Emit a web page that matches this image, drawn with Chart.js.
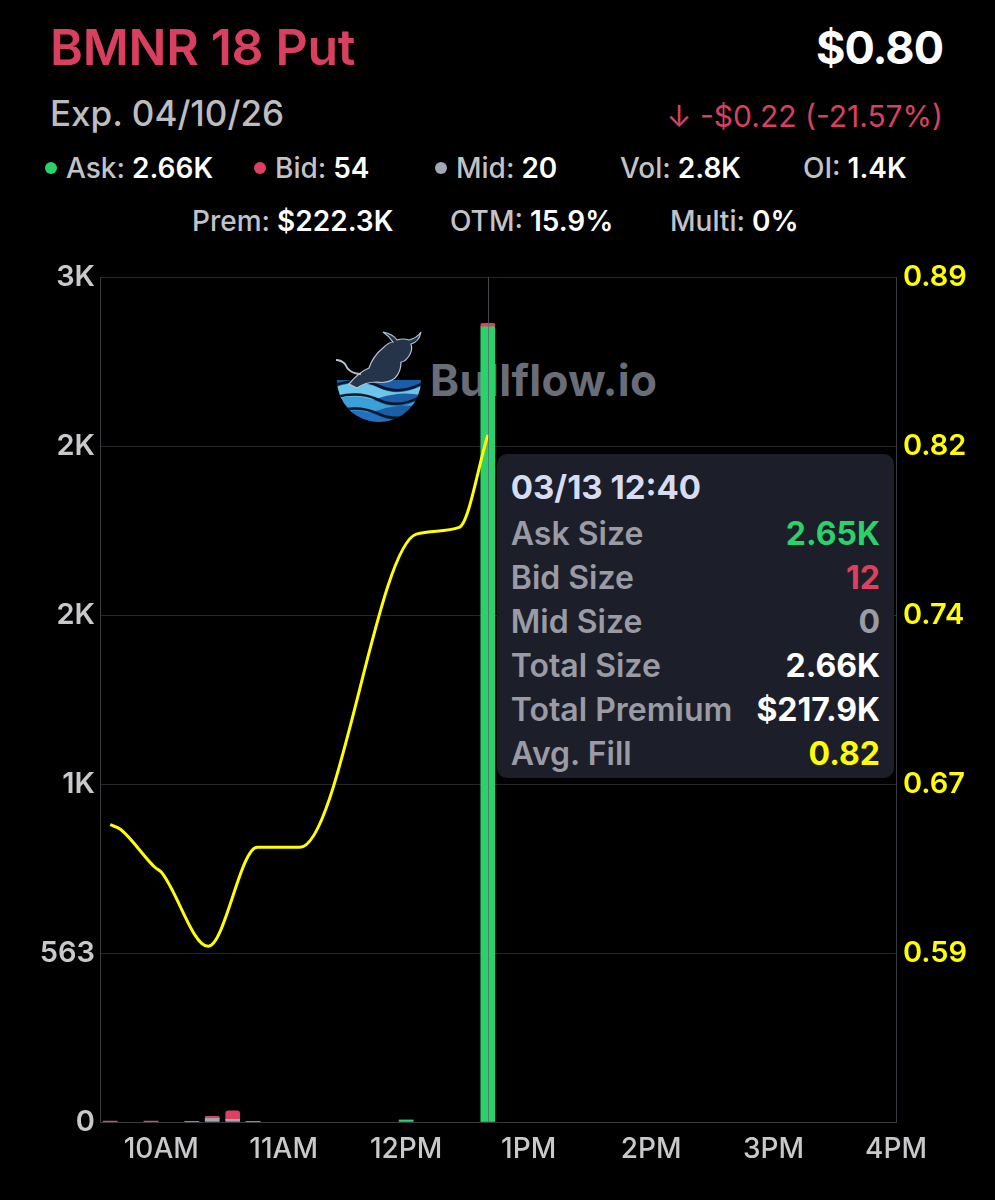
<!DOCTYPE html>
<html>
<head>
<meta charset="utf-8">
<script src="https://cdn.jsdelivr.net/npm/chart.js@4.4.1/dist/chart.umd.min.js"></script>
<style>
  html, body { margin:0; padding:0; background:#000; width:995px; height:1200px; overflow:hidden; font-family: Inter, "Noto Sans", "DejaVu Sans", sans-serif; }
  #wrap { position:relative; width:995px; height:1200px; }
  .abs { position:absolute; white-space:nowrap; }
  .title { left:50px; top:17px; font-size:50px; font-weight:600; color:#d9405f; letter-spacing:-0.3px; }
  .price { right:52px; top:20px; font-size:45px; font-weight:700; color:#fff; letter-spacing:-1px; }
  .exp { left:50px; top:92px; font-size:35px; font-weight:500; color:#bdbdc0; }
  .chg { right:52px; top:98px; font-size:30px; font-weight:400; color:#d9405f; }
  .stat { font-size:28px; top:151px; }
  .stat2 { font-size:28px; top:204px; }
  .lab { color:#c3c3c6; font-weight:500; }
  .val { color:#fff; font-weight:600; margin-left:7px; }
  .dot { display:inline-block; width:12px; height:12px; border-radius:50%; margin-right:9px; vertical-align:4px; }
  #logo { position:absolute; left:333px; top:330px; width:340px; height:100px; }
  #logo .txt { position:absolute; left:97px; top:23px; font-size:44px; font-weight:700; color:#6a6d78; letter-spacing:0.3px; }
  #chartBox { position:absolute; left:0; top:253px; width:995px; height:919px; }
  #tip { position:absolute; background:#1c1f29; border-radius:10px; box-sizing:border-box; padding:8px 14px 0 14px; }
  #tip .tt { font-size:33px; font-weight:700; color:#d8dcf2; height:50px; line-height:50px; }
  #tip .row { display:flex; justify-content:space-between; font-size:32px; font-weight:600; height:44px; line-height:44px; }
  #tip .row .l { color:#9a9ba4; }
  #tip .row .v { font-weight:700; }
</style>
</head>
<body>
<div id="wrap">
  <div class="abs title">BMNR 18 Put</div>
  <div class="abs price">$0.80</div>
  <div class="abs exp">Exp. 04/10/26</div>
  <div class="abs chg">↓ -$0.22 (-21.57%)</div>

  <div class="abs stat" style="left:45px"><span class="dot" style="background:#2bd16b"></span><span class="lab">Ask:</span><span class="val">2.66K</span></div>
  <div class="abs stat" style="left:254px"><span class="dot" style="background:#e0405f"></span><span class="lab">Bid:</span><span class="val">54</span></div>
  <div class="abs stat" style="left:435px"><span class="dot" style="background:#a3a7b4"></span><span class="lab">Mid:</span><span class="val">20</span></div>
  <div class="abs stat" style="left:620px"><span class="lab">Vol:</span><span class="val">2.8K</span></div>
  <div class="abs stat" style="left:803px"><span class="lab">OI:</span><span class="val">1.4K</span></div>

  <div class="abs stat2" style="left:192px"><span class="lab">Prem:</span><span class="val">$222.3K</span></div>
  <div class="abs stat2" style="left:450px"><span class="lab">OTM:</span><span class="val">15.9%</span></div>
  <div class="abs stat2" style="left:670px"><span class="lab">Multi:</span><span class="val">0%</span></div>

  <div id="logo">
    <svg width="92" height="98" viewBox="0 0 92 98" style="position:absolute;left:0;top:0">
      <defs>
        <clipPath id="bowl"><path d="M4 50 A42 42 0 0 0 88 50 Z"/></clipPath>
      </defs>
      <g clip-path="url(#bowl)">
        <rect x="0" y="40" width="92" height="60" fill="#1b5ea8"/>
        <path d="M0 58 Q25 48 46 58 T92 54 L92 66 Q70 60 46 68 T0 66 Z" fill="#6cc6ea"/>
        <path d="M0 70 Q25 62 46 72 T92 66 L92 78 Q70 72 46 80 T0 80 Z" fill="#3b9fd8"/>
        <path d="M0 84 Q25 76 46 86 T92 80 L92 100 L0 100 Z" fill="#2371bd"/>
        <path d="M0 56 Q25 46 46 56 T92 52" stroke="#0a1526" stroke-width="2.5" fill="none"/>
        <path d="M0 68 Q25 60 46 70 T92 64" stroke="#0a1526" stroke-width="2.5" fill="none"/>
        <path d="M0 82 Q25 74 46 84 T92 78" stroke="#0a1526" stroke-width="2.5" fill="none"/>
      </g>
      <path d="M16 54 Q26 42 36 38 Q40 26 50 18 Q56 12 60 12 Q56 6 50 2 Q60 4 64 10 Q70 8 76 10 Q84 8 88 2 Q86 12 78 14 Q80 20 76 26 Q72 32 68 32 Q68 42 62 48 Q54 54 44 52 Q32 52 24 58 Z" fill="#26344a" stroke="#b8c4d2" stroke-width="1.2"/>
      <path d="M28 44 Q16 44 12 34 Q8 30 3 30" stroke="#b8c4d2" stroke-width="2" fill="none"/>
    </svg>
    <div class="txt">Bullflow.io</div>
  </div>

  <div id="chartBox"><canvas id="c" width="995" height="919"></canvas></div>

  <div id="tip" class="abs"></div>
</div>

<script>
// ---------- data ----------
const barTimes   = ['09:35','09:55','10:15','10:25','10:35','10:45','12:00','12:40'];
const askSizes   = [0, 0, 2, 0, 0, 2, 6, 2650];
const bidSizes   = [3, 3, 0, 8, 28, 0, 0, 12];
const midSizes   = [0, 0, 0, 11, 9, 0, 0, 0];

const fillTimes  = ['09:35','09:40','09:57','10:00','10:23','10:47','11:08','12:05','12:26','12:40'];
const avgFills   = [0.647, 0.645, 0.628, 0.626, 0.593, 0.637, 0.637, 0.776, 0.779, 0.82];

const leftTickValues  = [0, 563, 1126, 1689, 2252, 2815];
const leftTickLabels  = ['0', '563', '1K', '2K', '2K', '3K'];
const rightTickValues = [0.515, 0.59, 0.665, 0.74, 0.815, 0.89];
const rightTickLabels = ['', '0.59', '0.67', '0.74', '0.82', '0.89'];
const xTickTimes      = ['10:00','11:00','12:00','13:00','14:00','15:00','16:00'];
const xTickLabels     = ['10AM','11AM','12PM','1PM','2PM','3PM','4PM'];
const sessionStart = '09:30', sessionEnd = '16:00';

const tipTime = '12:40';
const tipTitle = '03/13 12:40';
const tipRows = [
  ['Ask Size', '2.65K', '#2bd16b'],
  ['Bid Size', '12', '#e0405f'],
  ['Mid Size', '0', '#9a9ba4'],
  ['Total Size', '2.66K', '#ffffff'],
  ['Total Premium', '$217.9K', '#ffffff'],
  ['Avg. Fill', '0.82', '#ffff00']
];

// ---------- helpers ----------
const toMin = t => { const [h, m] = t.split(':').map(Number); return h * 60 + m; };
const pts = (times, vals) => times.map((t, i) => ({ x: toMin(t), y: vals[i] }));

Chart.defaults.font.family = 'Inter, "Noto Sans", sans-serif';

const crosshair = {
  id: 'crosshair',
  afterDatasetsDraw(chart) {
    const { ctx, chartArea, scales } = chart;
    const x = Math.round(scales.x.getPixelForValue(toMin(tipTime))) + 0.5;
    ctx.save();
    ctx.strokeStyle = 'rgba(95,95,105,0.75)';
    ctx.lineWidth = 1;
    ctx.beginPath();
    ctx.moveTo(x, chartArea.top);
    ctx.lineTo(x, chartArea.bottom);
    ctx.stroke();
    ctx.restore();
  },
  afterRender(chart) {
    const { chartArea, scales } = chart;
    const box = document.getElementById('chartBox');
    const offY = box.offsetTop;
    const tip = document.getElementById('tip');
    const left = scales.x.getPixelForValue(toMin(tipTime)) + 9;
    const idx = fillTimes.indexOf(tipTime);
    const top = scales.y2.getPixelForValue(avgFills[idx]) + 19 + offY;
    tip.style.left = left + 'px';
    tip.style.top = top + 'px';
    tip.style.width = (chartArea.right - 2 - left) + 'px';
    tip.style.height = '324px';
  }
};

const tip = document.getElementById('tip');
tip.innerHTML = '<div class="tt">' + tipTitle + '</div>' +
  tipRows.map(r => '<div class="row"><span class="l">' + r[0] + '</span><span class="v" style="color:' + r[2] + '">' + r[1] + '</span></div>').join('');

const tickFont = { size: 29, weight: '600' };

new Chart(document.getElementById('c'), {
  data: {
    datasets: [
      { type: 'line', label: 'Avg. Fill', data: pts(fillTimes, avgFills), yAxisID: 'y2',
        borderColor: '#ffff00', borderWidth: 3, pointRadius: 0, cubicInterpolationMode: 'monotone', order: 0 },
      { type: 'bar', label: 'Mid', data: pts(barTimes, midSizes), yAxisID: 'y',
        backgroundColor: '#a3a7b4', barThickness: 14, order: 1 },
      { type: 'bar', label: 'Ask', data: pts(barTimes, askSizes), yAxisID: 'y',
        backgroundColor: '#2bd16b', barThickness: 14, order: 1 },
      { type: 'bar', label: 'Bid', data: pts(barTimes, bidSizes), yAxisID: 'y',
        backgroundColor: '#e0405f', barThickness: 14, borderRadius: 3, order: 1 }
    ]
  },
  options: {
    responsive: false,
    animation: false,
    layout: { padding: { top: 21, left: 0, right: 0, bottom: 0 } },
    plugins: { legend: { display: false }, tooltip: { enabled: false } },
    scales: {
      x: {
        type: 'linear', stacked: true, offset: false,
        min: toMin(sessionStart), max: toMin(sessionEnd),
        afterBuildTicks: s => { s.ticks = xTickTimes.map(t => ({ value: toMin(t) })); },
        afterFit: s => { s.height = 50; },
        ticks: { color: '#c9c9cc', font: { size: 28, weight: '500' }, padding: 11, maxRotation: 0, autoSkip: false,
          callback: (v) => xTickLabels[xTickTimes.map(toMin).indexOf(v)] },
        grid: { display: false, drawTicks: false },
        border: { display: true, color: '#3a3a40', width: 1 }
      },
      y: {
        position: 'left', stacked: true,
        min: leftTickValues[0], max: leftTickValues[leftTickValues.length - 1],
        afterBuildTicks: s => { s.ticks = leftTickValues.map(v => ({ value: v })); },
        afterFit: s => { s.width = 100; },
        ticks: { color: '#c9c9cc', font: tickFont, padding: 5, autoSkip: false,
          callback: v => leftTickLabels[leftTickValues.indexOf(v)] },
        grid: { color: '#26262b', drawTicks: false, lineWidth: 1 },
        border: { display: true, color: '#3a3a40' }
      },
      y2: {
        position: 'right',
        min: rightTickValues[0], max: rightTickValues[rightTickValues.length - 1],
        afterBuildTicks: s => { s.ticks = rightTickValues.map(v => ({ value: v })); },
        afterFit: s => { s.width = 99; },
        ticks: { color: '#ffff00', font: tickFont, padding: 7, autoSkip: false,
          callback: v => rightTickLabels[rightTickValues.indexOf(v)] },
        grid: { display: false, drawTicks: false },
        border: { display: true, color: '#3a3a40' }
      }
    }
  },
  plugins: [crosshair]
});
</script>
</body>
</html>
